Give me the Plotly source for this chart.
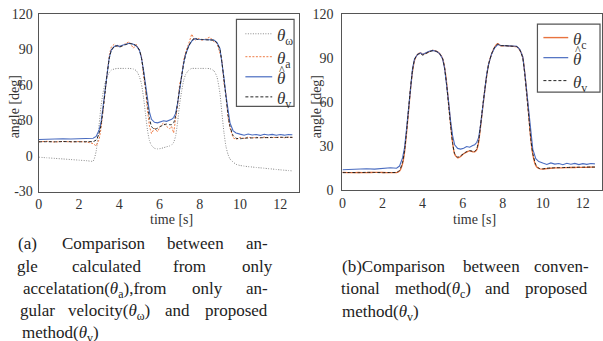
import plotly.graph_objects as go

W, H = 603, 341

# ---------------- data ----------------
T = [0.0, 0.4, 0.8, 1.2, 1.6, 2.0, 2.4, 2.7, 2.85, 3.0, 3.1, 3.2, 3.3, 3.4, 3.5, 3.6,
     3.75, 3.9, 4.0, 4.15, 4.3, 4.5, 4.7, 4.85, 5.0, 5.1, 5.2, 5.3, 5.4, 5.5, 5.6,
     5.75, 5.9, 6.05, 6.2, 6.35, 6.5, 6.6, 6.7, 6.8, 6.9, 7.0, 7.1, 7.2, 7.3,
     7.45, 7.6, 7.75, 7.9, 8.1, 8.3, 8.5, 8.7, 8.85, 9.0, 9.1, 9.2, 9.3, 9.4, 9.5,
     9.65, 9.8, 10.0, 10.2, 10.4, 10.6, 10.8, 11.0, 11.2, 11.4, 11.6, 11.8, 12.0,
     12.2, 12.4, 12.6]

theta_hat = [14.0, 14.3, 14.2, 14.6, 14.4, 14.7, 15.3, 15.0, 16.5,
             22, 29, 42, 56, 71, 83, 89.5,
             92.5, 93.5, 92.5, 93.5, 94.5, 95.2, 94.5, 93,
             89.5, 83, 73, 60, 47, 37, 31,
             28.5, 28, 28.6, 29.8, 29.3, 30.5,
             31, 32.5, 36, 45, 57, 69, 79, 86,
             93, 97, 99.2, 98.5,
             98.6, 98.3, 98.2, 98, 96,
             91, 80, 66, 51, 37, 28,
             21.5, 19.5,
             18.5, 17.6, 18.6, 17.8, 18.2, 17.4, 18.4, 17.7, 18.3, 17.5, 18.1, 17.6, 18.2, 18.0]

theta_v = [12.0, 12.1, 12.0, 12.2, 12.1, 12.0, 12.1, 12.2, 13.5,
           19, 27, 40, 55, 70, 82, 89,
           92.5, 93, 92, 93, 94, 95, 94.5, 93,
           89.5, 83, 72, 58, 44, 32, 25,
           22.5, 23.5, 25, 26.3, 27, 26.5,
           26.5, 28, 34, 45, 57, 68, 78, 86,
           93, 97.5, 99.5, 98.5,
           98.5, 98.2, 98, 97.8, 95.5,
           90, 79, 65, 50, 35, 25,
           17.5, 15,
           14.6, 15.0, 15.2, 15.3, 15.4, 15.5, 15.5, 15.6, 15.6, 15.7, 15.7, 15.8, 15.8, 15.8]

theta_c = [12.2, 12.0, 12.1, 12.0, 12.2, 12.1, 12.0, 12.0, 13,
           18, 26, 39, 54, 69, 81, 88.5,
           92.5, 93.5, 92.5, 93.2, 94.2, 95.2, 94.5, 93,
           89.5, 83.5, 73, 59, 45, 32, 24.5,
           22, 23, 24.8, 26, 26.8, 26.2,
           26.2, 27.5, 33, 44, 56, 67.5, 78, 86,
           93, 97.5, 99.8, 98.3,
           98.4, 98.2, 98, 97.7, 95.5,
           90.5, 80, 66, 51, 35, 24.5,
           16.8, 14.8,
           14.4, 14.8, 15.0, 15.2, 15.3, 15.3, 15.4, 15.5, 15.5, 15.6, 15.6, 15.6, 15.7, 15.7]

theta_a = [12.0, 12.4, 11.8, 12.3, 11.9, 12.2, 11.8, 10.5, 8.5,
           14, 24, 38, 53, 71, 85, 92,
           94.5, 92, 93.5, 93, 95, 96.5, 91, 94.5,
           88, 85, 68, 57, 39, 25, 19,
           23.5, 20.5, 25.5, 28, 25, 23,
           25, 19.5, 30, 43, 61, 67, 81, 88,
           95, 103, 97.5, 99.5,
           97.8, 98.8, 100.5, 96.5, 95.5,
           87, 81, 61, 53, 33, 24,
           15.5, 14,
           15.8, 14.8, 16.0, 15.2, 15.8, 15.3, 16.0, 15.4, 15.9, 15.5, 16.0, 15.4, 15.9, 15.6]

theta_w = [-1.0, -1.5, -2.0, -2.5, -3.0, -3.5, -4.0, -4.3, 4,
           27, 43, 54, 62, 67.5, 70.5, 72.5,
           73.5, 74, 74, 74, 74, 74, 73.5, 72,
           67, 61, 50, 36, 22, 13, 9,
           6.5, 6, 6.3, 7, 7.8, 8.5,
           9.3, 11.5, 17, 29, 44, 55, 64, 69,
           72.5, 74, 74, 74,
           74, 74, 73.8, 72, 67,
           53, 36, 20, 8, 1.5, -2.5,
           -5, -7,
           -8, -8.5, -9, -9.3, -9.7, -10, -10.3, -10.7, -11, -11.4, -11.7, -12, -12.3, -12.6]

x_ticks = [0, 2, 4, 6, 8, 10, 12]
y_ticks_a = [-30, 0, 30, 60, 90, 120]
y_ticks_b = [0, 30, 60, 90, 120]

# ---------------- styles ----------------
C_W = "#8a8a8a"
C_A = "#ee7b45"
C_HAT = "#4a6cc0"
C_V = "#222222"
C_C = "#e8733e"
FRAME = "#555555"
SERIF = "Liberation Serif"


def px(x):
    return x / W


def py(y):
    return 1 - y / H


fig = go.Figure()

# left panel
fig.add_trace(go.Scatter(x=T, y=theta_w, mode="lines", xaxis="x", yaxis="y",
                         line=dict(color=C_W, width=1, dash="1px,1.5px", shape="spline", smoothing=0.6)))
fig.add_trace(go.Scatter(x=T, y=theta_a, mode="lines", xaxis="x", yaxis="y",
                         line=dict(color=C_A, width=1, dash="2px,1.5px")))
fig.add_trace(go.Scatter(x=T, y=theta_hat, mode="lines", xaxis="x", yaxis="y",
                         line=dict(color=C_HAT, width=1.1)))
fig.add_trace(go.Scatter(x=T, y=theta_v, mode="lines", xaxis="x", yaxis="y",
                         line=dict(color=C_V, width=1, dash="3px,2px", shape="spline", smoothing=0.5)))

# right panel
fig.add_trace(go.Scatter(x=T, y=theta_c, mode="lines", xaxis="x2", yaxis="y2",
                         line=dict(color=C_C, width=1.3, shape="spline", smoothing=0.5)))
fig.add_trace(go.Scatter(x=T, y=theta_hat, mode="lines", xaxis="x2", yaxis="y2",
                         line=dict(color=C_HAT, width=1.1)))
fig.add_trace(go.Scatter(x=T, y=theta_v, mode="lines", xaxis="x2", yaxis="y2",
                         line=dict(color=C_V, width=1, dash="3px,2px", shape="spline", smoothing=0.5)))

axis_common = dict(showline=True, mirror=True, linecolor=FRAME, linewidth=1.2,
                   showgrid=False, zeroline=False, ticks="",
                   tickfont=dict(family=SERIF, size=14, color="#333333"))

fig.update_layout(
    width=W, height=H, margin=dict(l=0, r=0, t=0, b=0),
    paper_bgcolor="white", plot_bgcolor="white", showlegend=False,
    font=dict(family=SERIF),
    xaxis=dict(domain=[px(35), px(297)], range=[0, 12.93], tickvals=x_ticks,
               anchor="y", **axis_common),
    yaxis=dict(domain=[py(193), py(7.3)], range=[-30, 120], tickvals=y_ticks_a,
               ticktext=[str(v) for v in y_ticks_a], anchor="x",
               ticklabelstandoff=2, **axis_common),
    xaxis2=dict(domain=[px(340.7), px(601.7)], range=[0, 12.94], tickvals=x_ticks,
                anchor="y2", **axis_common),
    yaxis2=dict(domain=[py(191.7), py(7.3)], range=[0, 120], tickvals=y_ticks_b,
                anchor="x2", ticklabelstandoff=5, **axis_common),
)

shapes = []
annots = []


def text(t, x, y, size, color="#333", angle=0, xanchor="center", yanchor="middle"):
    annots.append(dict(text=t, x=px(x), y=py(y), xref="paper", yref="paper",
                       xanchor=xanchor, yanchor=yanchor, showarrow=False, textangle=angle,
                       font=dict(family=SERIF, size=size, color=color)))


# axis titles
text("time [s]", 169, 222, 14)
text("time [s]", 474, 222, 14)
text("angle [deg]", 10, 104, 14, angle=-90)
text("angle [deg]", 315, 104, 14, angle=-90)


# legends (drawn manually)
def legend(box, items):
    x0, x1, y0, y1 = box
    shapes.append(dict(type="rect", xref="paper", yref="paper", x0=px(x0), x1=px(x1),
                       y0=py(y1), y1=py(y0), line=dict(color=FRAME, width=1.2),
                       fillcolor="white", layer="above"))
    for (lx0, lx1, ly, color, dash, width, label, hat) in items:
        shapes.append(dict(type="line", xref="paper", yref="paper", x0=px(lx0), x1=px(lx1),
                           y0=py(ly), y1=py(ly), line=dict(color=color, width=width, dash=dash),
                           layer="above"))
        text(label, lx1 + 3, ly - 10, 17, color="#333", xanchor="left", yanchor="top")
        if hat:
            text("^", lx1 + 9.5, ly - 17, 12, color="#333", yanchor="top")


TH = "<i>θ</i>"
legend((234, 292, 13, 104), [
    (243, 270, 28, C_W, "1px,1.5px", 1, TH + "<sub>ω</sub>", False),
    (243, 270, 52, C_A, "2px,1.5px", 1, TH + "<sub>a</sub>", False),
    (243, 270, 73, C_HAT, "solid", 1.2, TH, True),
    (243, 270, 94, C_V, "3px,2px", 1, TH + "<sub>v</sub>", False),
])
legend((537, 600, 18, 89), [
    (543, 568, 32, C_C, "solid", 1.4, TH + "<sub>c</sub>", False),
    (543, 568, 53, C_HAT, "solid", 1.2, TH, True),
    (543, 568, 77, C_V, "3px,2px", 1, TH + "<sub>v</sub>", False),
])

# captions (justified text emulated word by word: (centre x, centre y, word))
TA = "(<i>θ</i><sub>a</sub>)"
TW = "(<i>θ</i><sub>ω</sub>)"
TV = "(<i>θ</i><sub>v</sub>)"
TC = "(<i>θ</i><sub>c</sub>)"
caption_words = [
    (24, 243, "(a)"), (100.5, 243, "Comparison"), (193, 243, "between"), (254.5, 243, "an-"),
    (24, 267, "gle"), (103.5, 267, "calculated"), (187, 267, "from"), (255, 267, "only"),
    (91, 290, "accelatation" + TA + ",from"), (204.5, 290, "only"), (255, 290, "an-"),
    (34, 313, "gular"), (105.7, 313, "velocity" + TW), (175, 313, "and"), (234, 313, "proposed"),
    (56.5, 336, "method" + TV),
    (392.5, 267, "(b)Comparison"), (490.3, 267, "between"), (561, 267, "conven-"),
    (359, 290, "tional"), (432, 290, "method" + TC), (497, 290, "and"), (556, 290, "proposed"),
    (379.3, 314, "method" + TV),
]
for cx, cy, word in caption_words:
    text(word, cx, cy - 8, 17, color="#222", yanchor="top")

fig.update_layout(shapes=shapes, annotations=annots)
fig.write_html("out.html")
